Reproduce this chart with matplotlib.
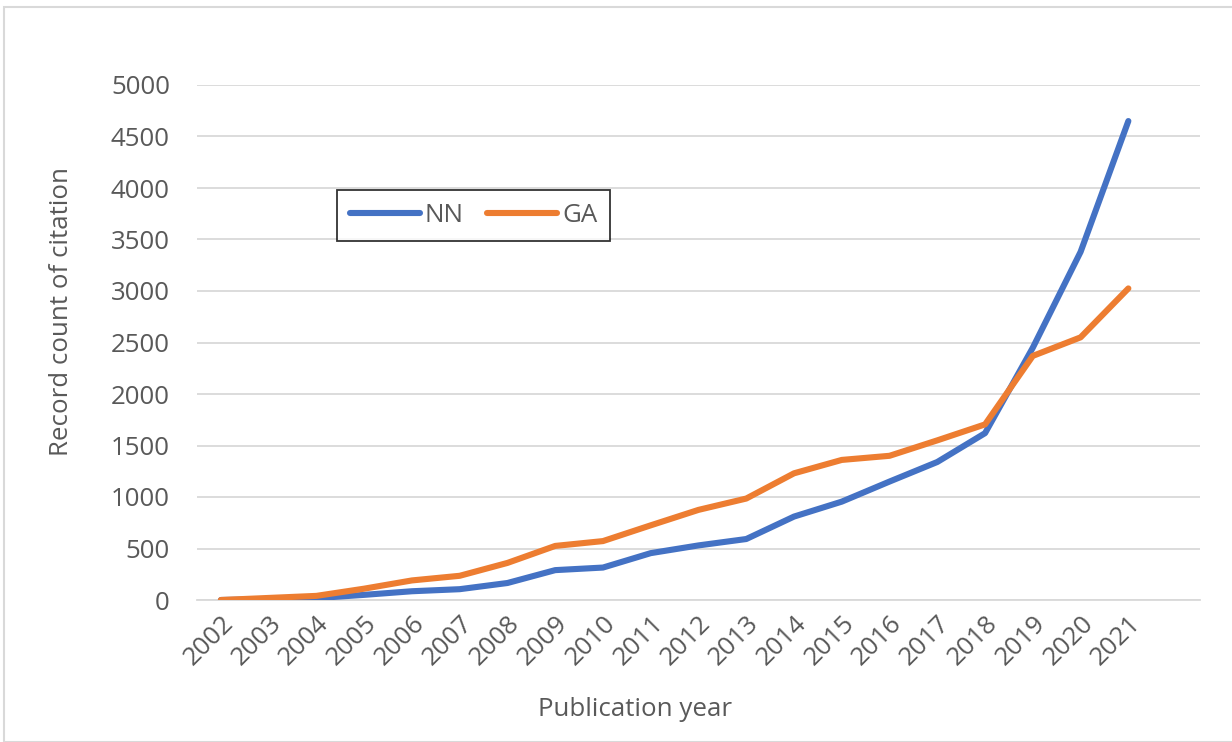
import matplotlib
matplotlib.use("Agg")
import matplotlib.pyplot as plt
from matplotlib.patches import Rectangle

years = ["2002", "2003", "2004", "2005", "2006", "2007", "2008", "2009", "2010", "2011",
         "2012", "2013", "2014", "2015", "2016", "2017", "2018", "2019", "2020", "2021"]
nn = [0, 8, 18, 50, 85, 105, 165, 290, 315, 455, 530, 592, 810, 955, 1150, 1340, 1620, 2450, 3380, 4650]
ga = [0, 20, 40, 110, 190, 235, 360, 525, 572, 725, 875, 985, 1230, 1360, 1400, 1550, 1705, 2370, 2550, 3025]

plt.rcParams["font.family"] = ["Open Sans", "DejaVu Sans"]
text_color = "#595959"
grid_color = "#d9d9d9"
fs = 18.6

W, H = 1232, 742
fig = plt.figure(figsize=(W / 100, H / 100), dpi=100)
ax = fig.add_axes([197 / W, 1 - 600 / H, (1200 - 197) / W, (600 - 85) / H])

# outer chart-area frame
fig.patches.append(Rectangle((4 / W, 0), 1.0, 1 - 7 / H, transform=fig.transFigure,
                             fill=False, edgecolor=grid_color, linewidth=1.5))

x = list(range(len(years)))
ax.plot(x, nn, color="#4472C4", linewidth=4.4, solid_capstyle="round",
        solid_joinstyle="round", label="NN", zorder=3)
ax.plot(x, ga, color="#ED7D31", linewidth=4.4, solid_capstyle="round",
        solid_joinstyle="round", label="GA", zorder=3)

ax.set_xlim(-0.5, len(years) + 0.5)
ax.set_ylim(0, 5000)
ax.set_yticks(range(0, 5001, 500))
ax.yaxis.grid(True, color=grid_color, linewidth=1.3)
ax.set_axisbelow(True)
for side in ("top", "right", "left"):
    ax.spines[side].set_visible(False)
ax.spines["bottom"].set_color(grid_color)
ax.spines["bottom"].set_linewidth(1.3)
ax.tick_params(axis="both", length=0, colors=text_color, labelsize=fs)
ax.tick_params(axis="y", pad=19.5)

ax.set_xticks(x)
ax.set_xticklabels(years, rotation=45, ha="right", va="top", rotation_mode="anchor")
ax.tick_params(axis="x", pad=8)

ax.set_xlabel("Publication year", fontsize=fs, color=text_color)
ax.xaxis.set_label_coords(0.437, -0.188)
ax.set_ylabel("Record count of citation", fontsize=fs, color=text_color)
ax.yaxis.set_label_coords(-0.1226, 0.561)

leg = ax.legend(loc="upper left", bbox_to_anchor=(0.1396, 0.796), ncol=2,
                frameon=True, fancybox=False, fontsize=fs, handlelength=2.7,
                handletextpad=0.2, columnspacing=0.9, borderpad=0.5,
                borderaxespad=0)
leg.get_frame().set_edgecolor("black")
leg.get_frame().set_linewidth(1.3)
for t in leg.get_texts():
    t.set_color(text_color)

fig.savefig("out.png", dpi=100)
